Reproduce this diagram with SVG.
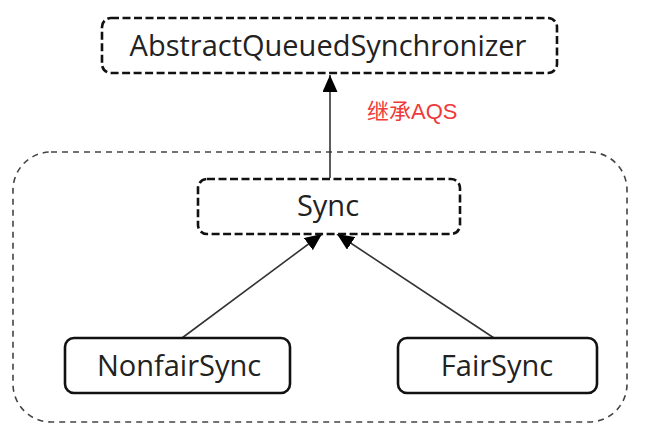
<svg xmlns="http://www.w3.org/2000/svg" width="647" height="429" viewBox="0 0 647 429">
<style>
.dash{fill:#fff;stroke:#111;stroke-width:2.6;stroke-dasharray:8 3.5}
.solid{fill:#fff;stroke:#111;stroke-width:2.6}
.outer{fill:none;stroke:#444;stroke-width:1.6;stroke-dasharray:6 5}
.lbl{font-family:"Open Sans","Liberation Sans",sans-serif;font-size:29px;fill:#222;text-anchor:middle}
.edge{stroke:#333;stroke-width:1.6;fill:none}
.red{font-family:"Liberation Sans","Noto Sans CJK SC",sans-serif;font-size:22px;fill:#f03a3a}
</style>
<defs>
<marker id="tri" viewBox="0 0 17 15" refX="17" refY="7.5" markerWidth="17" markerHeight="15" markerUnits="userSpaceOnUse" orient="auto">
<path d="M0,0 L17,7.5 L0,15 Z" fill="#000"/>
</marker>
</defs>
<rect class="outer" x="13" y="152" width="614" height="270" rx="38" ry="38"/>
<g id="connectors">
<line class="edge" x1="330" y1="178" x2="330" y2="75" marker-end="url(#tri)"/>
<line class="edge" x1="182" y1="338" x2="322" y2="234" marker-end="url(#tri)"/>
<line class="edge" x1="494" y1="338" x2="337" y2="234" marker-end="url(#tri)"/>
</g>
<g id="aqs">
<rect class="dash" x="102" y="18" width="455" height="55" rx="9"/>
<text class="lbl" x="328" y="56">AbstractQueuedSynchronizer</text>
</g>
<text class="red" x="367" y="119">继承AQS</text>
<g id="sync">
<rect class="dash" x="198" y="179" width="262" height="55" rx="9"/>
<text class="lbl" x="328" y="216">Sync</text>
</g>
<g id="nonfair">
<rect class="solid" x="65" y="338" width="225" height="55" rx="9"/>
<text class="lbl" x="179" y="376">NonfairSync</text>
</g>
<g id="fair">
<rect class="solid" x="398" y="338" width="199" height="55" rx="9"/>
<text class="lbl" x="497" y="376">FairSync</text>
</g>
</svg>
